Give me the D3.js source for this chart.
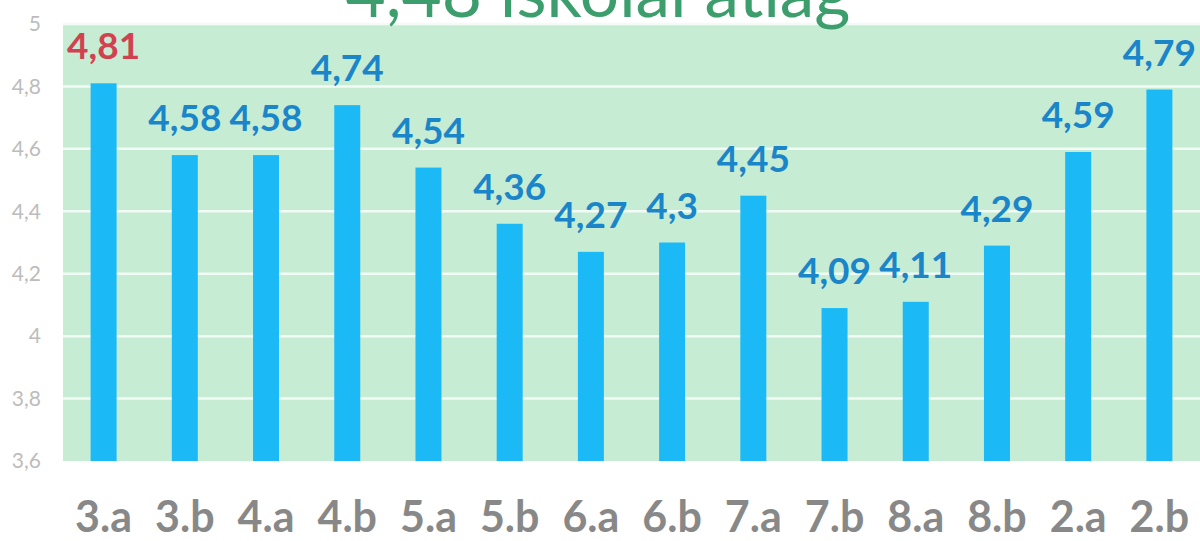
<!DOCTYPE html>
<html>
<head>
<meta charset="utf-8">
<script src="https://cdn.jsdelivr.net/npm/d3@7/dist/d3.min.js"></script>
<style>
  body{margin:0;background:#fff;}
  svg{display:block;}
</style>
</head>
<body>
<svg id="chart" width="1200" height="541"></svg>
<script>
var classes = ["3.a","3.b","4.a","4.b","5.a","5.b","6.a","6.b","7.a","7.b","8.a","8.b","2.a","2.b"]
var averages = [4.81,4.58,4.58,4.74,4.54,4.36,4.27,4.3,4.45,4.09,4.11,4.29,4.59,4.79]
var yTicks = [3.6,3.8,4,4.2,4.4,4.6,4.8,5]
var titleText = "4,48 iskolai átlag"

var svg = d3.select("#chart")
var plot = {left:63, right:1200, top:24, bottom:461}

var x = d3.scaleBand().domain(classes).range([plot.left, plot.right]).paddingInner(0.68).paddingOuter(0.34)
var y = d3.scaleLinear().domain([3.6,5]).range([plot.bottom, plot.top])

function comma(v){ return String(v).replace(".",",") }

// background
svg.append("rect")
  .attr("x",plot.left).attr("y",plot.top)
  .attr("width",plot.right-plot.left).attr("height",plot.bottom-plot.top)
  .attr("fill","#c6ecd4")

// grid
svg.append("g").selectAll("line").data(yTicks.slice(1)).enter().append("line")
  .attr("x1",plot.left).attr("x2",plot.right)
  .attr("y1",d=>y(d)).attr("y2",d=>y(d))
  .attr("stroke","#f2fbf5").attr("stroke-width",2.5)

// y axis labels
var yAxis = d3.axisLeft(y).tickValues(yTicks).tickSize(0).tickPadding(22).tickFormat(comma)
var ya = svg.append("g").attr("transform",`translate(${plot.left},0)`).call(yAxis)
ya.select(".domain").remove()
ya.selectAll("text")
  .attr("font-family","Lato, 'Open Sans', sans-serif")
  .attr("font-size",21)
  .attr("fill","#bcbcbc")

// bars
svg.append("g").selectAll("rect").data(averages).enter().append("rect")
  .attr("x",(d,i)=>x(classes[i]))
  .attr("y",d=>y(d))
  .attr("width",x.bandwidth())
  .attr("height",d=>plot.bottom-y(d))
  .attr("fill","#1bbaf7")

// value labels
svg.append("g").selectAll("text").data(averages).enter().append("text")
  .attr("x",(d,i)=>x(classes[i])+x.bandwidth()/2)
  .attr("y",d=>y(d)-24)
  .attr("text-anchor","middle")
  .attr("font-family","Lato, 'Open Sans', sans-serif")
  .attr("font-weight","bold")
  .attr("font-size",37)
  .attr("fill",(d,i)=> i==0 ? "#d2414f" : "#1a86c9")
  .text(comma)

// x axis labels
var xAxis = d3.axisBottom(x).tickSize(0).tickPadding(0)
var xa = svg.append("g").attr("transform",`translate(0,532)`).call(xAxis)
xa.select(".domain").remove()
xa.selectAll("text")
  .attr("dy",0)
  .attr("font-family","Lato, 'Open Sans', sans-serif")
  .attr("font-weight","bold")
  .attr("font-size",43)
  .attr("fill","#888888")

// title, cut at the top
var title = svg.append("text")
  .attr("x",598).attr("y",17)
  .attr("text-anchor","middle")
  .attr("font-family","Lato, 'Open Sans', sans-serif")
  .attr("font-size",56)
  .attr("fill","#3d9e6d")
  .text(titleText)
var w = title.node().getComputedTextLength()
title.attr("font-size",56*505/w)
</script>
</body>
</html>
